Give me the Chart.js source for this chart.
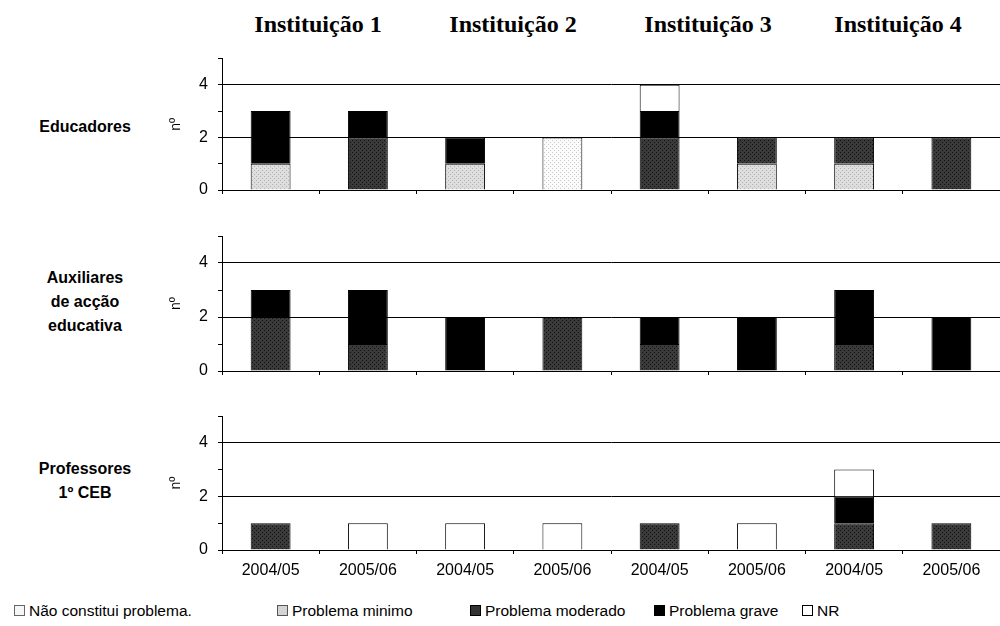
<!DOCTYPE html>
<html>
<head>
<meta charset="utf-8">
<script src="https://cdn.jsdelivr.net/npm/chart.js@4"></script>
<style>
body { margin: 0; width: 1000px; height: 626px; background: #fff; position: relative; overflow: hidden; font-family: "Liberation Sans", Arial, sans-serif; color: #000; }
canvas { position: absolute; left: 160px; }
.hd { position: absolute; top: 11px; font: bold 24px "Liberation Serif", serif; transform: translateX(-50%); white-space: nowrap; }
.row { position: absolute; left: 10px; width: 150px; text-align: center; font: bold 16px "Liberation Sans", Arial, sans-serif; line-height: 24px; }
.lg { position: absolute; top: 602px; font: 15.5px "Liberation Sans", Arial, sans-serif; white-space: nowrap; }
.sw { display: inline-block; width: 9px; height: 9px; border: 1px solid #000; margin-right: 4px; vertical-align: 0px; }
</style>
</head>
<body>
<div class="hd" style="left:318px">Instituição 1</div>
<div class="hd" style="left:513px">Instituição 2</div>
<div class="hd" style="left:708px">Instituição 3</div>
<div class="hd" style="left:898px">Instituição 4</div>

<div class="row" style="top:115px">Educadores</div>
<div class="row" style="top:266px">Auxiliares<br>de acção<br>educativa</div>
<div class="row" style="top:457px">Professores<br>1º CEB</div>

<canvas id="edu" width="840" height="148" style="top:52px"></canvas>
<canvas id="aux" width="840" height="151" style="top:230px"></canvas>
<canvas id="prof" width="840" height="180" style="top:410px"></canvas>

<div class="lg" style="left:14px"><span class="sw" style="background:#f6f6f6;border-color:#666"></span>Não constitui problema.</div>
<div class="lg" style="left:277px"><span class="sw" style="background:#d4d4d4;border-color:#555"></span>Problema minimo</div>
<div class="lg" style="left:470px"><span class="sw" style="background:#333"></span>Problema moderado</div>
<div class="lg" style="left:654px"><span class="sw" style="background:#000"></span>Problema grave</div>
<div class="lg" style="left:802px"><span class="sw" style="background:#fff"></span>NR</div>

<script>
// eixo x: ano lectivo, duas barras por instituição
const periods = ['2004/05', '2005/06', '2004/05', '2005/06', '2004/05', '2005/06', '2004/05', '2005/06'];
const seriesNames = ['Não constitui problema.', 'Problema minimo', 'Problema moderado', 'Problema grave', 'NR'];
const yLabels = [0, 2, 4];

// Educadores
const eduNao   = [0, 0, 0, 2, 0, 0, 0, 0];
const eduMin   = [1, 0, 1, 0, 0, 1, 1, 0];
const eduMod   = [0, 2, 0, 0, 2, 1, 1, 2];
const eduGrave = [2, 1, 1, 0, 1, 0, 0, 0];
const eduNR    = [0, 0, 0, 0, 1, 0, 0, 0];

// Auxiliares de acção educativa
const auxNao   = [0, 0, 0, 0, 0, 0, 0, 0];
const auxMin   = [0, 0, 0, 0, 0, 0, 0, 0];
const auxMod   = [2, 1, 0, 2, 1, 0, 1, 0];
const auxGrave = [1, 2, 2, 0, 1, 2, 2, 2];
const auxNR    = [0, 0, 0, 0, 0, 0, 0, 0];

// Professores 1º CEB
const profNao   = [0, 0, 0, 0, 0, 0, 0, 0];
const profMin   = [0, 0, 0, 0, 0, 0, 0, 0];
const profMod   = [1, 0, 0, 0, 1, 0, 1, 1];
const profGrave = [0, 0, 0, 0, 0, 0, 1, 0];
const profNR    = [0, 1, 1, 1, 0, 1, 1, 0];

function dots(bg, dot) {
    const c = document.createElement('canvas');
    c.width = 4; c.height = 4;
    const g = c.getContext('2d');
    g.fillStyle = bg; g.fillRect(0, 0, 4, 4);
    g.fillStyle = dot;
    g.fillRect(0, 0, 1, 1); g.fillRect(2, 2, 1, 1);
    return g.createPattern(c, 'repeat');
}

const fills = [
    dots('#fbfbfb', '#c8c8c8'),
    dots('#dedede', '#b0b0b0'),
    dots('#3a3a3a', '#111111'),
    '#000000',
    '#ffffff'
];
const font = { family: 'Liberation Sans', size: 16 };

function makePanel(id, rows, showLabels, topPad) {
    new Chart(document.getElementById(id), {
        type: 'bar',
        data: {
            labels: periods,
            datasets: rows.map((vals, i) => ({
                label: seriesNames[i],
                data: vals.map(v => v || null),
                backgroundColor: fills[i],
                borderColor: '#000',
                borderWidth: 1,
                barPercentage: 0.41,
                categoryPercentage: 1
            }))
        },
        options: {
            responsive: false,
            animation: false,
            layout: { padding: { top: topPad, left: 0, right: 0, bottom: 0 } },
            plugins: { legend: { display: false }, tooltip: { enabled: false } },
            scales: {
                x: {
                    stacked: true,
                    grid: { drawOnChartArea: false, tickLength: 4, tickColor: '#000', offset: true },
                    border: { color: '#000' },
                    ticks: { display: showLabels, color: '#000', font: font, padding: 7, maxRotation: 0 },
                    afterFit: s => { s.height = showLabels ? 40 : 10; s.paddingLeft = 0; s.paddingRight = 0; }
                },
                y: {
                    stacked: true,
                    min: 0,
                    max: 5,
                    ticks: {
                        stepSize: 1,
                        autoSkip: false,
                        color: '#000',
                        font: font,
                        padding: 10,
                        callback: v => yLabels.includes(v) ? v : ''
                    },
                    grid: {
                        color: c => (c.tick && c.tick.value > 0 && yLabels.includes(c.tick.value)) ? '#000' : 'rgba(0,0,0,0)',
                        tickColor: '#000',
                        tickLength: 4
                    },
                    border: { color: '#000' },
                    title: { display: true, text: 'nº', color: '#000', font: { family: 'Liberation Sans', size: 14 }, padding: { top: 8, bottom: 0 } },
                    afterFit: s => { s.width = 62; s.paddingTop = 0; s.paddingBottom = 0; }
                }
            }
        }
    });
}

makePanel('edu', [eduNao, eduMin, eduMod, eduGrave, eduNR], false, 6.5);
makePanel('aux', [auxNao, auxMin, auxMod, auxGrave, auxNR], false, 6);
makePanel('prof', [profNao, profMin, profMod, profGrave, profNR], true, 6);
</script>
</body>
</html>
